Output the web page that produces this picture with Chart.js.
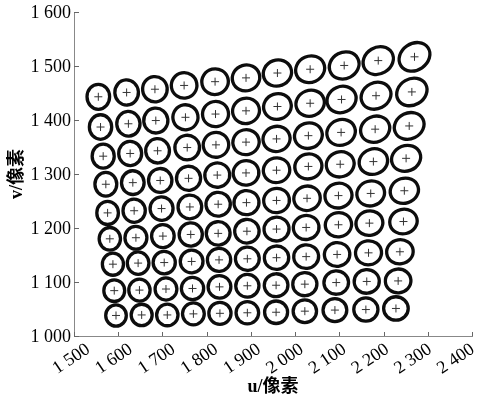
<!DOCTYPE html>
<html>
<head>
<meta charset="utf-8">
<script src="https://cdn.jsdelivr.net/npm/chart.js@4.4.1/dist/chart.umd.min.js"></script>
<style>
  html, body { margin: 0; padding: 0; background: #fff; }
  #c { display: block; }
</style>
</head>
<body>
<canvas id="c" width="478" height="398"></canvas>
<script>
// Axis ticks (pixel coordinates u, v)
const uTicks = [1500, 1600, 1700, 1800, 1900, 2000, 2100, 2200, 2300, 2400];
const vTicks = [1000, 1100, 1200, 1300, 1400, 1500, 1600];

// Target centres, one pair of arrays per grid row (top row first)
const row1U = [1555, 1619, 1683, 1749, 1819, 1889, 1960, 2034, 2111, 2188, 2270];
const row1V = [1443, 1451, 1457, 1464, 1471, 1478, 1487, 1494, 1501, 1510, 1517];
const row2U = [1560, 1623, 1685, 1752, 1820, 1889, 1960, 2034, 2105, 2183, 2264];
const row2V = [1387, 1393, 1399, 1405, 1411, 1417, 1425, 1431, 1438, 1445, 1452];
const row3U = [1566, 1627, 1689, 1756, 1821, 1889, 1958, 2030, 2104, 2181, 2258];
const row3V = [1333, 1338, 1343, 1349, 1354, 1359, 1365, 1371, 1377, 1383, 1389];
const row4U = [1572, 1633, 1695, 1759, 1824, 1889, 1958, 2030, 2102, 2177, 2251];
const row4V = [1281, 1284, 1288, 1292, 1298, 1302, 1307, 1314, 1318, 1323, 1329];
const row5U = [1576, 1636, 1698, 1762, 1826, 1890, 1958, 2027, 2098, 2171, 2247];
const row5V = [1228, 1232, 1236, 1239, 1244, 1247, 1251, 1255, 1260, 1264, 1269];
const row6U = [1581, 1640, 1701, 1764, 1826, 1891, 1958, 2025, 2098, 2168, 2245];
const row6V = [1180, 1182, 1185, 1188, 1190, 1194, 1198, 1201, 1206, 1209, 1212];
const row7U = [1588, 1645, 1704, 1766, 1828, 1892, 1958, 2025, 2095, 2166, 2237];
const row7V = [1133, 1135, 1136, 1138, 1141, 1143, 1145, 1147, 1151, 1154, 1156];
const row8U = [1591, 1648, 1708, 1768, 1829, 1892, 1957, 2022, 2093, 2162, 2233];
const row8V = [1084, 1085, 1087, 1088, 1091, 1093, 1094, 1096, 1099, 1101, 1102];
const row9U = [1595, 1653, 1711, 1770, 1830, 1892, 1957, 2022, 2090, 2160, 2228];
const row9V = [1038, 1039, 1039, 1041, 1042, 1043, 1044, 1046, 1048, 1049, 1051];

const rowsU = [row1U, row2U, row3U, row4U, row5U, row6U, row7U, row8U, row9U];
const rowsV = [row1V, row2V, row3V, row4V, row5V, row6V, row7V, row8V, row9V];

const centres = [];
rowsU.forEach((us, r) => {
  us.forEach((u, c) => centres.push({ x: u, y: rowsV[r][c], row: r, col: c }));
});

const serif = "'Liberation Serif', 'Times New Roman', serif";
const titleFont = "'Liberation Serif', 'Noto Sans CJK SC', serif";
const fmt = v => String(v).replace(/\B(?=(\d{3})+(?!\d))/g, ' ');

// Imaged target outlines: an ellipse around every centre, growing and
// stretching along the diagonal towards the upper right of the field.
const targetOutlines = {
  id: 'targetOutlines',
  beforeDatasetsDraw(chart) {
    const meta = chart.getDatasetMeta(0);
    const ctx = chart.ctx;
    const nRows = rowsU.length - 1;
    const nCols = row1U.length - 1;
    ctx.save();
    ctx.strokeStyle = '#0d0d0d';
    ctx.lineWidth = 3.3;
    meta.data.forEach((el, i) => {
      const p = centres[i];
      const c = p.col / nCols;
      const r = (nRows - p.row) / nRows;
      const stretch = 1.5 * c * r;
      const rx = 10.3 + 2 * c + r + 1.5 * c * r + stretch;
      const ry = 10.6 + 1.1 * c + 1.9 * r + 1.2 * c * r - stretch;
      const rot = -0.6 * c * r;
      ctx.beginPath();
      ctx.ellipse(el.x, el.y, rx, ry, rot, 0, Math.PI * 2);
      ctx.stroke();
    });
    ctx.restore();
  }
};

// Short tick marks drawn inwards from both axes
const innerTicks = {
  id: 'innerTicks',
  afterDraw(chart) {
    const { ctx, chartArea: a, scales: { x, y } } = chart;
    ctx.save();
    ctx.strokeStyle = '#666';
    ctx.lineWidth = 1;
    ctx.beginPath();
    uTicks.forEach(t => {
      const px = Math.round(x.getPixelForValue(t)) + 0.5;
      ctx.moveTo(px, a.bottom);
      ctx.lineTo(px, a.bottom - 4);
    });
    vTicks.forEach(t => {
      const py = Math.round(y.getPixelForValue(t)) + 0.5;
      ctx.moveTo(a.left, py);
      ctx.lineTo(a.left + 5, py);
    });
    ctx.stroke();
    ctx.restore();
  }
};

// Slanted u tick labels; they sit right of their ticks, drifting
// slightly closer to them towards the right end of the axis.
const uTickLabels = {
  id: 'uTickLabels',
  afterDraw(chart) {
    const { ctx, chartArea: a, scales: { x } } = chart;
    const n = uTicks.length - 1;
    ctx.save();
    ctx.font = '18px ' + serif;
    ctx.fillStyle = '#000';
    ctx.textAlign = 'right';
    ctx.textBaseline = 'middle';
    uTicks.forEach((t, i) => {
      const shift = 14.2 - 13.5 * i / n;
      ctx.save();
      ctx.translate(x.getPixelForValue(t) + shift, a.bottom + 11.8);
      ctx.rotate(-34 * Math.PI / 180);
      ctx.fillText(fmt(t), 0, 0);
      ctx.restore();
    });
    ctx.restore();
  }
};

new Chart(document.getElementById('c'), {
  type: 'scatter',
  data: {
    datasets: [{
      data: centres,
      pointStyle: 'cross',
      pointRadius: 4,
      pointHoverRadius: 4,
      borderWidth: 1,
      borderColor: '#333',
      backgroundColor: '#333'
    }]
  },
  options: {
    responsive: false,
    animation: false,
    devicePixelRatio: 1,
    layout: { padding: { top: 12, right: 6, left: 0, bottom: 0 } },
    plugins: { legend: { display: false }, tooltip: { enabled: false } },
    scales: {
      x: {
        type: 'linear',
        position: 'bottom',
        min: 1500,
        max: 2400,
        afterBuildTicks: s => { s.ticks = uTicks.map(v => ({ value: v })); },
        afterFit: s => { s.height = 62; s.paddingLeft = 0; s.paddingRight = 0; },
        grid: { display: false, drawTicks: false },
        border: { display: true, color: '#888', width: 1 },
        ticks: { display: false, autoSkip: false, callback: fmt },
        title: {
          display: true,
          text: 'u/像素',
          color: '#000',
          font: { family: titleFont, size: 18, weight: 'bold' },
          padding: { top: 0, bottom: 0 }
        }
      },
      y: {
        type: 'linear',
        min: 1000,
        max: 1600,
        afterBuildTicks: s => { s.ticks = vTicks.map(v => ({ value: v })); },
        afterFit: s => { s.width = 74; s.paddingTop = 0; s.paddingBottom = 0; },
        grid: { display: false, drawTicks: false },
        border: { display: true, color: '#888', width: 1 },
        ticks: {
          padding: 3,
          labelOffset: 1,
          color: '#000',
          font: { family: serif, size: 18 },
          callback: fmt
        },
        title: {
          display: true,
          text: 'v/像素',
          color: '#000',
          font: { family: titleFont, size: 18, weight: 'bold' },
          padding: { top: 7, bottom: 0 }
        }
      }
    }
  },
  plugins: [targetOutlines, innerTicks, uTickLabels]
});
</script>
</body>
</html>
